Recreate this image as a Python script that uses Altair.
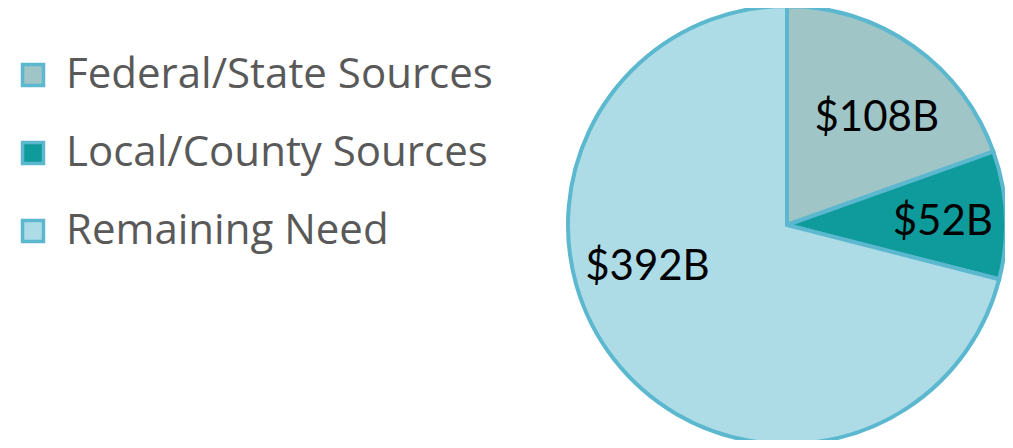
import altair as alt
import pandas as pd

categories = ["Federal/State Sources", "Local/County Sources", "Remaining Need"]
values = [108, 52, 392]
labels = ["$108B", "$52B", "$392B"]
colors = ["#9FC5C7", "#0F9A9C", "#ADDCE7"]

df = pd.DataFrame({"cat": categories, "val": values, "lab": labels, "idx": [0, 1, 2]})

CX, CY, R = 779, 217, 219

color = alt.Color(
    "cat:N",
    scale=alt.Scale(domain=categories, range=colors),
    sort=categories,
    legend=alt.Legend(
        title=None, orient="none", legendX=4, legendY=46,
        symbolType="square", symbolSize=440, symbolStrokeColor="#5BB8CF",
        symbolStrokeWidth=3.5, symbolOpacity=1,
        labelFont="Open Sans", labelFontSize=42, labelColor="#595959",
        labelOffset=12, rowPadding=36, labelLimit=600,
    ),
)

base = alt.Chart(df).encode(
    theta=alt.Theta("val:Q", stack=True),
    order=alt.Order("idx:Q"),
)

arcs = base.mark_arc(outerRadius=R, stroke="#5BB8CF", strokeWidth=4).encode(
    color=color, x=alt.value(CX), y=alt.value(CY)
)

# (radius, dx, dy) label placement per slice
placements = [(140, 9, 7), (156, 0, 4), (145, -25, -47)]
text_layers = []
for i, (rad, ddx, ddy) in enumerate(placements):
    text_layers.append(
        base.mark_text(radius=rad, font="Lato", fontSize=42, color="black").encode(
            text=alt.condition(alt.datum.idx == i, "lab:N", alt.value("")),
            x=alt.value(CX + ddx), y=alt.value(CY + ddy),
        )
    )

chart = alt.layer(arcs, *text_layers).properties(
    width=997, height=432, padding=0, autosize="none"
).configure_view(stroke=None)

chart.save("out.html", embed_options={"renderer": "svg", "actions": False})
